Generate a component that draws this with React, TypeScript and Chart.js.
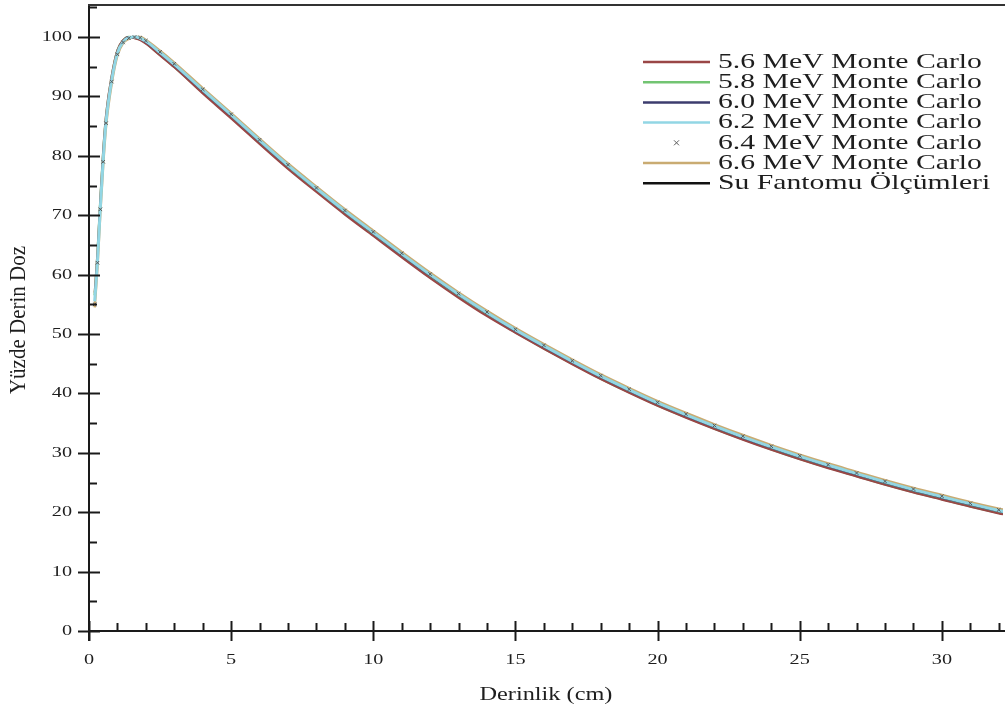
import React, { useEffect, useRef } from "react";
import { Chart, registerables } from "chart.js";

Chart.register(...registerables);

// depth (cm)
const depth = [0.2, 0.3, 0.4, 0.5, 0.6, 0.8, 1.0, 1.2, 1.4, 1.6, 1.8, 2.0, 2.5, 3, 4, 5, 6, 7, 8, 9, 10, 11, 12, 13, 14, 15, 16, 17, 18, 19, 20, 21, 22, 23, 24, 25, 26, 27, 28, 29, 30, 31, 32, 33];

const mc56 = [57, 64, 73, 81, 87, 93.6, 97.8, 99.5, 100, 99.8, 99.5, 98.9, 96.9, 94.9, 90.5, 86.3, 82.0, 77.8, 73.9, 70.1, 66.5, 62.9, 59.4, 56.1, 53.0, 50.2, 47.5, 44.9, 42.4, 40.1, 37.9, 35.9, 34.0, 32.2, 30.5, 28.9, 27.4, 26.0, 24.6, 23.3, 22.1, 20.9, 19.8, 18.8];
const mc58 = [56.5, 63.5, 72.5, 80.5, 86.5, 93.3, 97.7, 99.4, 100, 99.9, 99.6, 99.0, 97.0, 95.0, 90.7, 86.5, 82.2, 78.0, 74.1, 70.3, 66.7, 63.1, 59.6, 56.3, 53.2, 50.3, 47.6, 45.0, 42.5, 40.2, 38.0, 36.0, 34.1, 32.3, 30.6, 29.0, 27.5, 26.1, 24.7, 23.4, 22.2, 21.0, 19.9, 18.9];
const mc60 = [56, 63, 72, 80, 86.2, 93, 97.5, 99.3, 100, 100, 99.7, 99.1, 97.2, 95.2, 90.9, 86.7, 82.4, 78.2, 74.3, 70.5, 66.9, 63.3, 59.8, 56.5, 53.4, 50.5, 47.8, 45.2, 42.7, 40.4, 38.2, 36.2, 34.3, 32.5, 30.8, 29.2, 27.7, 26.3, 24.9, 23.6, 22.4, 21.2, 20.1, 19.1];
const mc62 = [55.5, 62.5, 71.5, 79.5, 85.8, 92.8, 97.3, 99.2, 99.9, 100, 99.8, 99.3, 97.4, 95.4, 91.1, 86.9, 82.6, 78.4, 74.5, 70.7, 67.1, 63.5, 60.0, 56.7, 53.6, 50.7, 48.0, 45.4, 42.9, 40.6, 38.4, 36.4, 34.5, 32.7, 31.0, 29.4, 27.9, 26.5, 25.1, 23.8, 22.6, 21.4, 20.3, 19.3];
const mc64 = [55, 62, 71, 79, 85.5, 92.5, 97.1, 99.1, 99.8, 100, 99.9, 99.4, 97.5, 95.5, 91.2, 87.0, 82.7, 78.5, 74.6, 70.8, 67.2, 63.6, 60.1, 56.8, 53.7, 50.8, 48.1, 45.5, 43.0, 40.7, 38.5, 36.5, 34.6, 32.8, 31.1, 29.5, 28.0, 26.6, 25.2, 23.9, 22.7, 21.5, 20.4, 19.4];
const mc66 = [54.5, 61.5, 70.5, 78.5, 85, 92.2, 96.9, 99.0, 99.7, 100, 100, 99.5, 97.7, 95.7, 91.4, 87.2, 82.9, 78.7, 74.8, 71.0, 67.4, 63.8, 60.3, 57.0, 53.9, 51.0, 48.3, 45.7, 43.2, 40.9, 38.7, 36.7, 34.8, 33.0, 31.3, 29.7, 28.2, 26.8, 25.4, 24.1, 22.9, 21.7, 20.6, 19.6];
const water = [56, 63, 72, 80, 86, 93, 97.5, 99.3, 99.9, 100, 99.8, 99.2, 97.3, 95.3, 91.0, 86.8, 82.5, 78.3, 74.4, 70.6, 67.0, 63.4, 59.9, 56.6, 53.5, 50.6, 47.9, 45.3, 42.8, 40.5, 38.3, 36.3, 34.4, 32.6, 30.9, 29.3, 27.8, 26.4, 25.0, 23.7, 22.5, 21.3, 20.2, 19.2];

const seriesLabels = [
  "5.6 MeV Monte Carlo",
  "5.8 MeV Monte Carlo",
  "6.0 MeV Monte Carlo",
  "6.2 MeV Monte Carlo",
  "6.4 MeV Monte Carlo",
  "6.6 MeV Monte Carlo",
  "Su Fantomu Ölçümleri",
];
const seriesColors = ["#9a4646", "#72c472", "#3c3c6e", "#92d6e4", "#5a5a5a", "#c9ab72", "#111111"];

const xTicks = [0, 5, 10, 15, 20, 25, 30];
const yTicks = [0, 10, 20, 30, 40, 50, 60, 70, 80, 90, 100];
const xTitle = "Derinlik (cm)";
const yTitle = "Yüzde Derin Doz";

const SERIF = '"Liberation Serif", "Times New Roman", serif';
const SX = 1.35;

function stretchText(ctx: CanvasRenderingContext2D, text: string, x: number, y: number, align: CanvasTextAlign, font: string) {
  ctx.save();
  ctx.translate(x, y);
  ctx.scale(SX, 1);
  ctx.font = font;
  ctx.textAlign = align;
  ctx.textBaseline = "middle";
  ctx.fillText(text, 0, 0);
  ctx.restore();
}

const axesPlugin = {
  id: "customAxes",
  afterDatasetsDraw(chart: any) {
    const ctx: CanvasRenderingContext2D = chart.ctx;
    const { left, right, top, bottom } = chart.chartArea;
    const xs = chart.scales.x;
    const ys = chart.scales.y;
    ctx.save();
    ctx.strokeStyle = "#1a1a1a";
    ctx.fillStyle = "#1e1e1e";
    ctx.lineWidth = 2;
    ctx.beginPath();
    ctx.moveTo(left, top);
    ctx.lineTo(left, bottom + 10);
    ctx.moveTo(left, bottom);
    ctx.lineTo(right + 2, bottom);
    ctx.stroke();
    ctx.strokeStyle = "#333";
    ctx.beginPath();
    ctx.moveTo(left - 1, top);
    ctx.lineTo(right + 2, top);
    ctx.stroke();
    ctx.strokeStyle = "#1a1a1a";
    for (let v = 0; v <= 105; v += 5) {
      const py = Math.round(ys.getPixelForValue(v)) + 0.5;
      ctx.beginPath();
      if (v % 10 === 0) {
        ctx.moveTo(left - 11, py);
        ctx.lineTo(left + 11, py);
      } else {
        ctx.moveTo(left, py);
        ctx.lineTo(left + 8, py);
      }
      ctx.stroke();
    }
    for (const v of yTicks) {
      stretchText(ctx, String(v), left - 17, ys.getPixelForValue(v), "right", `15px ${SERIF}`);
    }
    for (let v = 0; v <= 32; v += 1) {
      const px = Math.round(xs.getPixelForValue(v)) + 0.5;
      ctx.beginPath();
      if (v % 5 === 0) {
        ctx.moveTo(px, bottom - 10);
        ctx.lineTo(px, bottom + 10);
      } else {
        ctx.moveTo(px, bottom - 8);
        ctx.lineTo(px, bottom);
      }
      ctx.stroke();
    }
    for (const v of xTicks) {
      stretchText(ctx, String(v), xs.getPixelForValue(v), bottom + 29, "center", `15px ${SERIF}`);
    }
    stretchText(ctx, xTitle, (left + right) / 2, 695, "center", `18px ${SERIF}`);
    ctx.save();
    ctx.translate(19, 320);
    ctx.rotate(-Math.PI / 2);
    ctx.scale(1, SX * 0.85);
    ctx.font = `21px ${SERIF}`;
    ctx.textAlign = "center";
    ctx.textBaseline = "middle";
    ctx.fillText(yTitle, 0, 0);
    ctx.restore();
    chart.data.datasets.forEach((ds: any, i: number) => {
      const ry = 62 + i * 20.2;
      if (ds.showLine === false) {
        ctx.save();
        ctx.strokeStyle = ds.borderColor;
        ctx.lineWidth = 1;
        ctx.beginPath();
        ctx.moveTo(674, ry - 2.5);
        ctx.lineTo(679, ry + 2.5);
        ctx.moveTo(679, ry - 2.5);
        ctx.lineTo(674, ry + 2.5);
        ctx.stroke();
        ctx.restore();
      } else {
        ctx.save();
        ctx.strokeStyle = ds.borderColor;
        ctx.lineWidth = 2.5;
        ctx.beginPath();
        ctx.moveTo(643, ry);
        ctx.lineTo(710, ry);
        ctx.stroke();
        ctx.restore();
      }
      ctx.fillStyle = "#1e1e1e";
      stretchText(ctx, ds.label, 718, ry, "left", `22px ${SERIF}`);
    });
    ctx.restore();
  },
};

export default function App() {
  const ref = useRef<HTMLCanvasElement | null>(null);
  useEffect(() => {
    if (!ref.current) return;
    const values = [mc56, mc58, mc60, mc62, mc64, mc66, water];
    const orders = [4, 5, 3, 1, 0, 6, 2];
    const widths = [2, 2.5, 1.5, 3, 1, 2.5, 1.2];
    const datasets = values.map((arr, i) => {
      const isCross = i === 4;
      return {
        label: seriesLabels[i],
        data: depth.map((d, j) => ({ x: d, y: arr[j] })),
        borderColor: seriesColors[i],
        backgroundColor: seriesColors[i],
        borderWidth: widths[i],
        showLine: !isCross,
        pointStyle: isCross ? "crossRot" : "circle",
        pointRadius: isCross ? 2.5 : 0,
        pointBorderWidth: 1,
        cubicInterpolationMode: "monotone" as const,
        order: orders[i],
      };
    });
    const chart = new Chart(ref.current, {
      type: "scatter",
      data: { datasets },
      options: {
        animation: false,
        responsive: true,
        maintainAspectRatio: false,
        layout: { padding: { left: 89, top: 3, right: 0, bottom: 85 } },
        plugins: { legend: { display: false }, tooltip: { enabled: false } },
        scales: {
          x: { type: "linear", min: 0, max: 32.15, display: false },
          y: { type: "linear", min: 0, max: 105.4, display: false },
        },
      },
      plugins: [axesPlugin],
    });
    return () => chart.destroy();
  }, []);
  return (
    <div style={{ position: "absolute", left: 0, top: 0, width: 1008, height: 716, background: "#fff" }}>
      <canvas ref={ref} />
    </div>
  );
}
